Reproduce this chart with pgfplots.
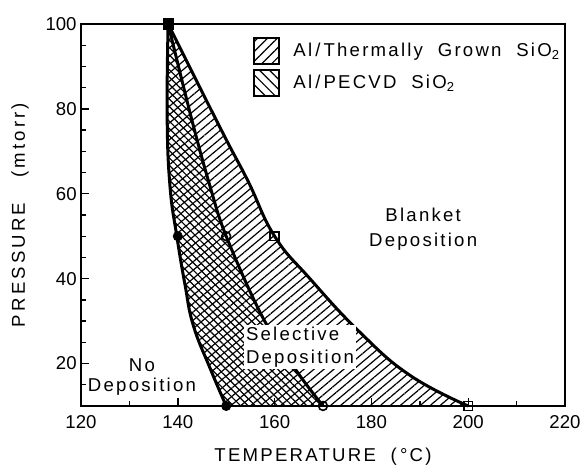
\documentclass[border=0pt]{standalone}
\usepackage{fontspec}
\setmainfont{Liberation Sans}
\newfontfamily\spaced[LetterSpace=12]{Liberation Sans}
\newfontfamily\wide[LetterSpace=17]{Liberation Sans}
\usepackage{pgfplots}
\pgfplotsset{compat=1.18}
\usepgfplotslibrary{fillbetween}
\usetikzlibrary{patterns.meta}

\begin{document}
\fontsize{9.3}{11}\selectfont
\begin{tikzpicture}
\begin{axis}[
  scale only axis, width=242pt, height=191pt,
  xmin=120, xmax=220, ymin=10, ymax=100,
  xtick={120,140,...,220}, ytick={20,40,...,100},
  minor xtick={130,150,...,210}, minor ytick={15,20,...,95},
  tick align=inside, major tick length=4pt, minor tick length=2.5pt,
  xtick pos=bottom, ytick pos=left,
  axis line style={line width=0.8pt},
  every tick/.style={black, line width=0.7pt},
  /pgf/number format/assume math mode=true,
  xticklabel style={inner sep=0pt, yshift=-4.5pt},
  yticklabel style={inner sep=0pt, xshift=-2pt},
  every axis x label/.style={at={([yshift=-25.5pt]axis description cs:0.5,0)}, anchor=center},
  every axis y label/.style={at={([xshift=-30.5pt]axis description cs:0,0.5)}, anchor=center, rotate=90},
  xlabel={\spaced TEMPERATURE\ \ (\,°C)},
  ylabel={\wide PRESSURE\ \ \ (mtorr)},
  clip=false,
  legend style={at={(rel axis cs:0.355,1)}, anchor=north west, yshift=-6.5pt,
    draw=none, fill=none, inner sep=0pt, row sep=2.5pt,
    nodes={inner sep=0pt, font=\spaced}},
  legend cell align=left,
  /tikz/every odd column/.append style={column sep=7pt},
]
% left boundary (both oxides)
\addplot[name path=left, line width=1.5pt, smooth, tension=0.75, forget plot] coordinates {
  (138,100)(137.8,78)(138.4,61.6)(139.8,50)(141.5,38.5)(143.2,29)(146.7,18.8)(150,10)};
% Al/PECVD SiO2 upper boundary
\addplot[name path=middle, line width=1.5pt, smooth, tension=0.6, forget plot] coordinates {
  (138,100)(142.9,77.4)(146.7,61.6)(150,50)(157.3,31.4)(164.2,18.8)(170,10)};
% Al/thermal SiO2 upper boundary
\addplot[name path=right, line width=1.5pt, smooth, tension=0.75, forget plot] coordinates {
  (138,100)(149,75)(154.5,63)(160,50)(167.3,40)(177.6,27.4)(188,17.2)(200,10)};

\addplot[draw=none, pattern={Lines[angle=40,distance=3.2pt,line width=0.6pt]}, forget plot]
  fill between[of=left and right, reverse=true];
\addplot[draw=none, pattern={Lines[angle=-45,distance=2.6pt,line width=0.6pt]}, forget plot]
  fill between[of=left and middle, reverse=true];

% measured points
\addplot[only marks, mark=*, mark size=2.3pt, forget plot] coordinates {(140,50)(150,10)};
\addplot[only marks, mark=o, mark size=2.2pt, mark options={fill=white, line width=0.8pt}, forget plot]
  coordinates {(150,50)(170,10)};
\addplot[only marks, mark=square, mark size=2.2pt, mark options={fill=white, line width=0.8pt}, forget plot]
  coordinates {(160,50)(200,10)};
\addplot[only marks, mark=square*, mark size=2.6pt, forget plot] coordinates {(138,100)};

\addlegendimage{legend image code/.code={
  \draw[line width=0.8pt, pattern={Lines[angle=45,distance=3.5pt,line width=0.6pt]}] (0pt,-6.5pt) rectangle (12.5pt,6.5pt);}}
\addlegendentry{Al\,/\,Thermally\ \ Grown\ \ SiO\textsubscript{2}}
\addlegendimage{legend image code/.code={
  \draw[line width=0.8pt, pattern={Lines[angle=-45,distance=3.5pt,line width=0.6pt]}] (0pt,-6.5pt) rectangle (12.5pt,6.5pt);}}
\addlegendentry{Al\,/\,PECVD\ \ SiO\textsubscript{2}}

\node[align=center, font=\fontsize{9.3}{12.5}\selectfont\spaced] at (axis cs:190.7,51.7) {Blanket\\Deposition};
\node[align=left, anchor=west, fill=white, inner sep=1pt, font=\fontsize{9.3}{11.7}\selectfont\spaced]
  at (axis cs:153.6,23.9) {Selective\\Deposition};
\node[align=center, font=\fontsize{9.3}{10}\selectfont\spaced] at (axis cs:132.6,16.8) {No\\Deposition};

\path ([xshift=-40.5pt,yshift=-34pt]rel axis cs:0,0) rectangle ([xshift=10pt,yshift=12pt]rel axis cs:1,1);
\end{axis}
\end{tikzpicture}
\end{document}
